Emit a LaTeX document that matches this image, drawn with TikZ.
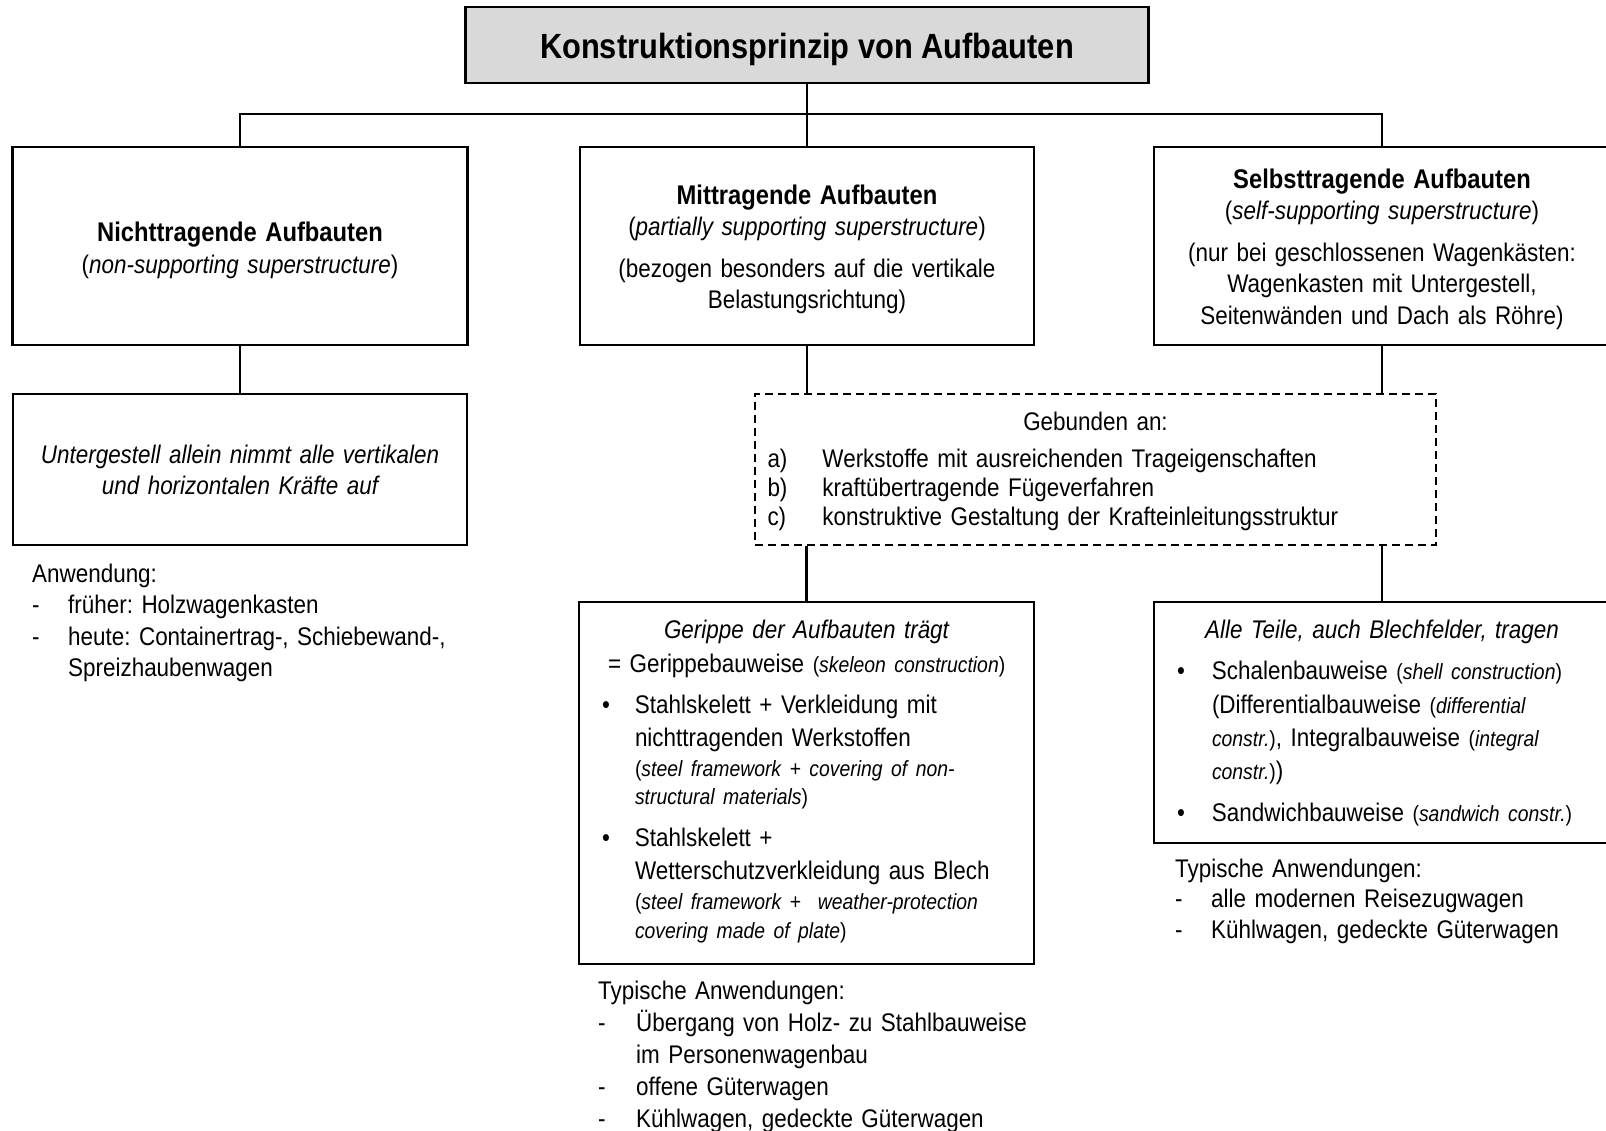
\documentclass[tikz,border=0pt]{standalone}
\usepackage{fontspec}
\setmainfont{Liberation Sans}[FakeStretch=0.88]
\usetikzlibrary{positioning}

\definecolor{titelgrau}{HTML}{D9D9D9}
\newcommand\sm{\fontsize{22}{28}\selectfont}
\newcommand\hd{\fontsize{27}{32}\selectfont\bfseries}
\newcommand\strich[1][36pt]{\makebox[#1][l]{-}}
\newcommand\punkt[1][33pt]{\makebox[#1][l]{\textbullet}}
\frenchspacing

\begin{document}
\begin{tikzpicture}[x=1pt, y=-1pt,
    kasten/.style={draw, line width=2.2pt, inner sep=0pt, anchor=north},
    gestrichelt/.style={draw, line width=1.8pt, dash pattern=on 8pt off 5pt, inner sep=0pt, anchor=north},
    verbindung/.style={line width=2.2pt},
    notiz/.style={inner sep=0pt, anchor=base west, align=left, text width=440pt}]
  \useasboundingbox (0,0) rectangle (1606,1131);

  % Title
  \node[kasten, fill=titelgrau, minimum width=683pt, text height=51pt, text depth=25pt,
        font=\fontsize{35}{40}\selectfont\bfseries] (titel) at (807,6)
    {Konstruktionsprinzip von Aufbauten};

  % First level
  \node[kasten, minimum width=455pt, text width=440pt, align=center,
        text height=94pt, text depth=104pt, font=\fontsize{25.5}{32}\selectfont] (nicht) at (240,146)
    {{\hd Nichttragende Aufbauten}\\(\textit{non-supporting superstructure})};
  \node[kasten, minimum width=454pt, text width=440pt, align=center,
        text height=57pt, text depth=141pt, font=\fontsize{25.5}{31.5}\selectfont] (mit) at (807,146)
    {{\hd Mittragende Aufbauten}\\(\textit{partially supporting superstructure})\\[10pt]
     (bezogen besonders auf die vertikale\\Belastungsrichtung)};
  \node[kasten, minimum width=456pt, text width=440pt, align=center,
        text height=41pt, text depth=157pt, font=\fontsize{25.5}{31.5}\selectfont] (selbst) at (1382,146)
    {{\hd Selbsttragende Aufbauten}\\(\textit{self-supporting superstructure})\\[10pt]
     (nur bei geschlossenen Wagenkästen:\\Wagenkasten mit Untergestell,\\Seitenwänden und Dach als Röhre)};

  % Second level
  \node[kasten, minimum width=454pt, text width=440pt, align=center,
        text height=69pt, text depth=82pt, font=\fontsize{25.5}{31}\selectfont\itshape] (unterg) at (240,393)
    {Untergestell allein nimmt alle vertikalen\\und horizontalen Kräfte auf};
  \node[gestrichelt, minimum width=681pt, text width=656pt, align=left,
        text height=37pt, text depth=114pt, font=\fontsize{25.5}{29}\selectfont] (gebunden) at (1095.5,393)
    {\makebox[\hsize]{Gebunden an:}\\[8pt]
     \makebox[55pt][l]{a)}Werkstoffe mit ausreichenden Trageigenschaften\\
     \makebox[55pt][l]{b)}kraftübertragende Fügeverfahren\\
     \makebox[55pt][l]{c)}konstruktive Gestaltung der Krafteinleitungsstruktur};

  % Third level
  \node[kasten, minimum width=455pt, text width=409pt, align=left,
        text height=36pt, text depth=326pt, font=\fontsize{25.5}{28}\selectfont] (gerippe) at (806.5,601)
    {\makebox[\hsize]{\itshape Gerippe der Aufbauten trägt}\\[6pt]
     \hspace*{6pt}\mbox{= Gerippebauweise {\sm(\textit{skeleon construction})}}\\[13pt]
     \punkt\mbox{Stahlskelett + Verkleidung mit}\\[5pt]
     \hspace*{33pt}nichttragenden Werkstoffen\\[2pt]
     \hspace*{33pt}\mbox{\sm(\textit{steel framework + covering of non-}}\\
     \hspace*{33pt}\mbox{\sm\textit{structural materials})}\\[14pt]
     \punkt Stahlskelett +\\[5pt]
     \hspace*{33pt}\mbox{Wetterschutzverkleidung aus Blech}\\[2pt]
     \hspace*{33pt}\mbox{\sm(\textit{steel framework +\ \ weather-protection}}\\[1pt]
     \hspace*{33pt}\mbox{\sm\textit{covering made of plate})}};
  \node[kasten, minimum width=456pt, text width=410pt, align=left,
        text height=36pt, text depth=205pt, font=\fontsize{25.5}{33}\selectfont] (alle) at (1382,601)
    {\makebox[\hsize]{\itshape Alle Teile, auch Blechfelder, tragen}\\[8pt]
     \punkt[35pt]\mbox{Schalenbauweise {\sm(\textit{shell construction})}}\\[1pt]
     \hspace*{35pt}\mbox{(Differentialbauweise {\sm(\textit{differential}}}\\
     \hspace*{35pt}\mbox{{\sm\textit{constr.})}, Integralbauweise {\sm(\textit{integral}}}\\
     \hspace*{35pt}\mbox{{\sm\textit{constr.})})}\\[9pt]
     \punkt[35pt]\mbox{Sandwichbauweise {\sm(\textit{sandwich constr.})}}};

  % Notes below the boxes
  \node[notiz, font=\fontsize{25.5}{31.5}\selectfont] (anwL) at (32,582)
    {Anwendung:\\
     \strich früher: Holzwagenkasten\\
     \strich heute: Containertrag-, Schiebewand-,\\
     \hspace*{36pt}Spreizhaubenwagen};
  \node[notiz, font=\fontsize{25.5}{32}\selectfont] (anwM) at (598,999)
    {Typische Anwendungen:\\
     \strich[38pt]Übergang von Holz- zu Stahlbauweise\\
     \hspace*{38pt}im Personenwagenbau\\
     \strich[38pt]offene Güterwagen\\
     \strich[38pt]Kühlwagen, gedeckte Güterwagen};
  \node[notiz, font=\fontsize{25.5}{30.5}\selectfont] (anwR) at (1175,877)
    {Typische Anwendungen:\\
     \strich alle modernen Reisezugwagen\\
     \strich Kühlwagen, gedeckte Güterwagen};

  % Connectors
  \coordinate (bus) at (807,114);
  \draw[verbindung] (titel.south) -- (mit.north);
  \draw[verbindung] (nicht.north) |- (bus) -| (selbst.north);
  \draw[verbindung] (nicht.south) -- (unterg.north);
  \draw[verbindung] (mit.south) -- (mit.south |- gebunden.north);
  \draw[verbindung] (selbst.south) -- (selbst.south |- gebunden.north);
  \draw[verbindung] (gebunden.south -| gerippe.north) -- (gerippe.north);
  \draw[verbindung] (gebunden.south -| alle.north) -- (alle.north);
\end{tikzpicture}
\end{document}
